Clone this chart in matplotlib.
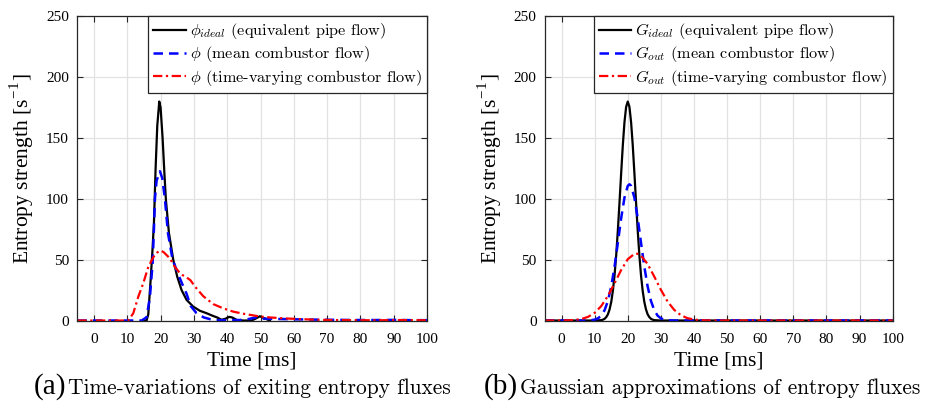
import matplotlib
matplotlib.use('Agg')
import matplotlib.pyplot as plt

# ---------------- data ----------------
x_ticks = [0, 10, 20, 30, 40, 50, 60, 70, 80, 90, 100]
y_ticks = [0, 50, 100, 150, 200, 250]

# (a) time-variations of exiting entropy fluxes
t_ideal_a = [15.0, 15.8, 16.3, 17.0, 17.5, 18.0, 18.5, 19.0, 19.6, 20.0, 20.6, 21.2,
             21.6, 22.5, 23.8, 25.0, 26.3, 27.8, 29.8, 31.8, 33.8, 35.8, 37.0, 38.3,
             39.5, 40.6, 41.5, 43.0, 45.0, 47.3, 48.5, 49.8, 51.0, 52.8]
phi_ideal = [0, 0, 5, 33, 55, 80, 125, 160, 180, 175, 150, 118,
             99, 72, 50, 36, 25, 17, 11.4, 8, 6, 3.7, 2.5, 0.6,
             1.5, 3, 2.5, 0.3, 0, 0, 1.5, 3.5, 2, 0]

t_mean_a = [-5, 0, 5, 10, 14.3, 15.8, 16.8, 17.6, 18.0, 18.3, 18.8, 19.8, 20.5, 21.3,
            22.2, 23.6, 25.6, 26.5, 27.8, 29.0, 30.8, 33.0, 35.0, 36.6, 40, 43.8, 46,
            48.8, 51, 54.8, 60, 65, 70, 75, 80, 85, 90, 95, 100]
phi_mean = [0, 0, 0, 0, 0, 2.6, 19.6, 47, 75, 100, 115, 122.7, 117, 100,
            72, 50, 36, 30, 22, 12, 6, 2.5, 1, 0.3, 0.3, 0.4, 1,
            2.6, 1.5, 1.3, 1, 0.8, 0.6, 0.5, 0.4, 0.4, 0.5, 0.3, 0.3]

t_tv_a = [-5, 0, 5, 10.3, 11.8, 13.3, 14.8, 16.3, 17.8, 19.0, 20.1, 21.0, 22.8, 24.3,
          25.5, 26.5, 27.8, 29.0, 30.3, 32.8, 35.8, 38.8, 41.8, 45.0, 49.8, 53, 56.8,
          60, 66.8, 72, 76.8, 85, 92, 100]
phi_tv = [0, 0, 0, 0, 6, 19.6, 30.7, 44, 52, 56, 57.5, 56, 51, 44,
          40, 37.5, 35.5, 33, 28, 20, 13.5, 10, 7.3, 5.5, 3.3, 2.5, 1.8,
          1.4, 0.6, 0.4, 0.3, 0.2, 0.4, 0.2]

# (b) Gaussian approximations of entropy fluxes
t_ideal_b = [-5, 10, 12, 12.5, 13, 13.5, 14, 14.5, 15, 15.5, 16, 16.5, 17, 17.5, 18,
             18.5, 19, 19.5, 20, 20.5, 21, 21.5, 22, 22.5, 23, 23.5, 24, 24.5, 25,
             25.5, 26, 26.5, 27, 27.5, 28, 30, 100]
G_ideal = [0, 0, 0.3, 0.7, 1.4, 2.8, 5.1, 9.1, 15.2, 24.4, 37, 53.6, 74, 97, 121,
           144, 163, 175.6, 180, 175.6, 163, 144, 121, 97, 74, 53.6, 37, 24.4, 15.2,
           9.1, 5.1, 2.8, 1.4, 0.7, 0.3, 0, 0]

t_mean_b = [-5, 8, 10, 11, 12, 13, 14, 15, 16, 17, 18, 19, 20, 20.5, 21, 22, 23, 24,
            25, 26, 27, 28, 29, 30, 31, 32, 34, 100]
G_mean = [0, 0, 0.7, 1.8, 4.0, 8.5, 16.1, 27.9, 44.2, 63.8, 84.1, 101, 110.7, 112,
          110.7, 101, 84.1, 63.8, 44.2, 27.9, 16.1, 8.5, 4.0, 1.8, 0.7, 0.2, 0, 0]

t_tv_b = [-5, 0, 2, 4, 6, 8, 10, 12, 14, 16, 18, 20, 22, 22.5, 23, 24, 26, 28, 30,
          32, 34, 36, 38, 40, 42, 44, 46, 50, 100]
G_tv = [0, 0.05, 0.16, 0.47, 1.25, 3.0, 6.3, 11.9, 20.2, 30.6, 41.5, 50.4, 54.8, 55,
        54.8, 53.3, 46.4, 36.1, 25.2, 15.7, 8.8, 4.4, 1.95, 0.78, 0.28, 0.1, 0.03, 0, 0]

labels_a = [r'$\phi_{ideal}$ (equivalent pipe flow)',
            r'$\phi$ (mean combustor flow)',
            r'$\phi$ (time-varying combustor flow)']
labels_b = [r'$G_{ideal}$ (equivalent pipe flow)',
            r'$G_{out}$ (mean combustor flow)',
            r'$G_{out}$ (time-varying combustor flow)']

# ---------------- style ----------------
plt.rcParams['mathtext.fontset'] = 'cm'
plt.rcParams['font.family'] = ['Liberation Serif', 'DejaVu Serif']

fig = plt.figure(figsize=(9.34, 4.05), dpi=100)
axL = fig.add_axes([0.0828, 0.2086, 0.3744, 0.751])
axR = fig.add_axes([0.5835, 0.2086, 0.3723, 0.751])

dash_blue = (0, (3.8, 2.4))
dashdot_red = (0, (4.2, 1.6, 1.0, 1.6))


def style(ax):
    ax.set_xlim(-5, 100)
    ax.set_ylim(0, 250)
    ax.set_xticks(x_ticks)
    ax.set_yticks(y_ticks)
    ax.grid(True, color='#e2e2e2', lw=0.9)
    ax.set_axisbelow(True)
    ax.tick_params(direction='in', top=True, right=True, length=4, width=0.8,
                   color='#262626', labelsize=11, labelcolor='black')
    ax.tick_params(axis='x', pad=9)
    ax.tick_params(axis='y', pad=6)
    for s in ax.spines.values():
        s.set_color('#262626')
        s.set_linewidth(0.9)
    ax.set_xlabel('Time [ms]', fontsize=15.5, labelpad=4)
    ax.set_ylabel(r'Entropy strength [s$^{\mathregular{-1}}$]', fontsize=15.5, labelpad=7)


def draw(ax, series, labels):
    (t1, y1), (t2, y2), (t3, y3) = series
    ax.plot(t1, y1, color='black', lw=1.6, label=labels[0])
    ax.plot(t2, y2, color='#0000ff', lw=1.8, linestyle=dash_blue, label=labels[1])
    ax.plot(t3, y3, color='#ff0000', lw=1.6, linestyle=dashdot_red, label=labels[2])
    leg = ax.legend(loc='upper right', borderaxespad=0, fancybox=False,
                    edgecolor='#262626', framealpha=1, handlelength=2.0,
                    handletextpad=0.25, borderpad=0.3, labelspacing=0.2,
                    prop={'family': 'cmr10', 'size': 11.7})
    leg.get_frame().set_linewidth(0.9)


style(axL)
style(axR)
draw(axL, [(t_ideal_a, phi_ideal), (t_mean_a, phi_mean), (t_tv_a, phi_tv)], labels_a)
draw(axR, [(t_ideal_b, G_ideal), (t_mean_b, G_mean), (t_tv_b, G_tv)], labels_b)

# captions
base_y = 0.027
for x_tag, x_body, tag, txt in [(66, 68, '(a)', 'Time-variations of exiting entropy fluxes'),
                                (518, 520, '(b)', 'Gaussian approximations of entropy fluxes')]:
    fig.text(x_tag / 934, base_y, tag, fontsize=21, va='baseline', ha='right',
             family='Liberation Serif')
    fig.text(x_body / 934, base_y, txt, fontsize=15.4, va='baseline', ha='left',
             family='cmr10')

fig.savefig('out.png', dpi=100)
